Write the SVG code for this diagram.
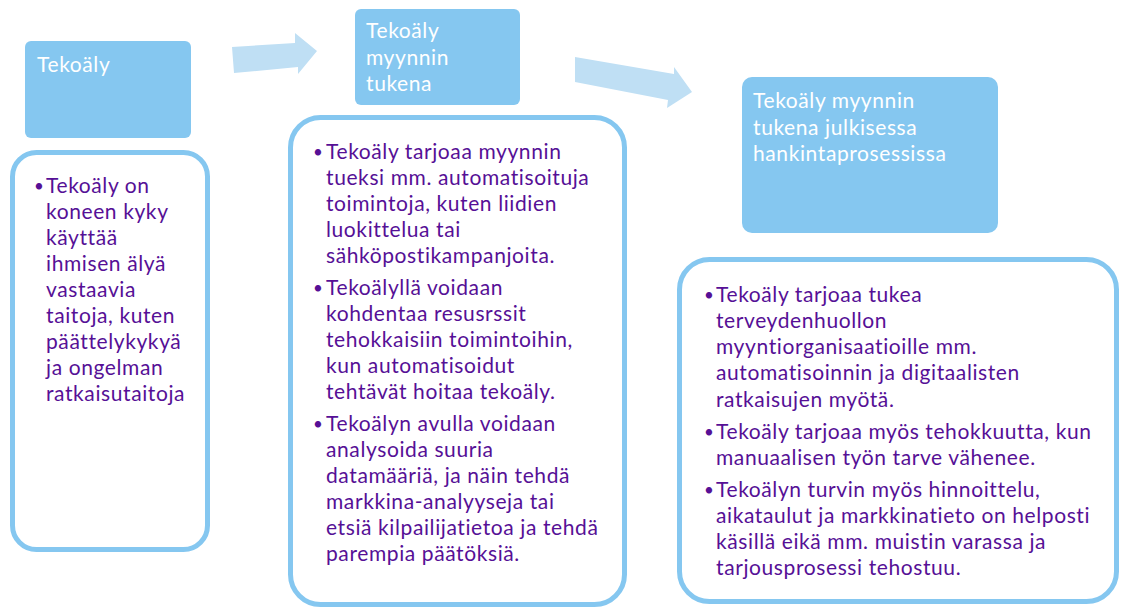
<svg xmlns="http://www.w3.org/2000/svg" width="1121" height="610" viewBox="0 0 1121 610">
<style>
.hdr{fill:#85C7F0;}
.body{fill:#ffffff;stroke:#85C7F0;stroke-width:5;}
.arrow{fill:#BFDFF4;}
.ht{font-family:Lato,"Liberation Sans",sans-serif;font-size:21px;letter-spacing:0.6px;fill:#ffffff;}
.bt{font-family:Lato,"Liberation Sans",sans-serif;font-size:21px;letter-spacing:0.6px;fill:#561096;}
.bl{font-size:17px;}
</style>
<rect width="1121" height="610" fill="#ffffff"/>
<g id="connectors">
<polygon class="arrow" points="232,47 295,43 295,33 317,51 298,74 298,67 234,73"/>
<polygon class="arrow" points="575,57 674,74 674,67 692,92 667,108 668,100 575,82"/>
</g>
<g id="node-tekoaly">
<rect class="hdr" x="25" y="41" width="166" height="97" rx="6"/>
<text class="ht" x="37" y="72">Tekoäly</text>
</g>
<g id="node-tekoaly-body">
<rect class="body" x="12.5" y="152.5" width="195" height="397" rx="24"/>
<text class="bt"><tspan class="bl" x="34" y="192">•</tspan><tspan x="46" y="193">Tekoäly on</tspan><tspan x="46" dy="26">koneen kyky</tspan><tspan x="46" dy="26">käyttää</tspan><tspan x="46" dy="26">ihmisen älyä</tspan><tspan x="46" dy="26">vastaavia</tspan><tspan x="46" dy="26">taitoja, kuten</tspan><tspan x="46" dy="26">päättelykykyä</tspan><tspan x="46" dy="26">ja ongelman</tspan><tspan x="46" dy="26">ratkaisutaitoja</tspan></text>
</g>
<g id="node-myynnin-tukena">
<rect class="hdr" x="355" y="9" width="165" height="96" rx="6"/>
<text class="ht"><tspan x="366" y="38">Tekoäly</tspan><tspan x="366" y="65">myynnin</tspan><tspan x="366" y="91">tukena</tspan></text>
</g>
<g id="node-myynnin-tukena-body">
<rect class="body" x="290.5" y="117.5" width="334" height="487" rx="30"/>
<text class="bt"><tspan class="bl" x="313" y="158">•</tspan><tspan x="326" y="159">Tekoäly tarjoaa myynnin</tspan><tspan x="326" y="185">tueksi mm. automatisoituja</tspan><tspan x="326" y="211">toimintoja, kuten liidien</tspan><tspan x="326" y="237">luokittelua tai</tspan><tspan x="326" y="263">sähköpostikampanjoita.</tspan><tspan class="bl" x="313" y="294">•</tspan><tspan x="326" y="295">Tekoälyllä voidaan</tspan><tspan x="326" y="321">kohdentaa resusrssit</tspan><tspan x="326" y="347">tehokkaisiin toimintoihin,</tspan><tspan x="326" y="373">kun automatisoidut</tspan><tspan x="326" y="399">tehtävät hoitaa tekoäly.</tspan><tspan class="bl" x="313" y="430">•</tspan><tspan x="326" y="431">Tekoälyn avulla voidaan</tspan><tspan x="326" y="457">analysoida suuria</tspan><tspan x="326" y="483">datamääriä, ja näin tehdä</tspan><tspan x="326" y="509">markkina-analyyseja tai</tspan><tspan x="326" y="535">etsiä kilpailijatietoa ja tehdä</tspan><tspan x="326" y="561">parempia päätöksiä.</tspan></text>
</g>
<g id="node-julkinen">
<rect class="hdr" x="742" y="77" width="256" height="156" rx="10"/>
<text class="ht"><tspan x="753" y="108">Tekoäly myynnin</tspan><tspan x="753" y="135">tukena julkisessa</tspan><tspan x="753" y="161">hankintaprosessissa</tspan></text>
</g>
<g id="node-julkinen-body">
<rect class="body" x="679.5" y="259.5" width="437" height="342" rx="30"/>
<text class="bt"><tspan class="bl" x="704" y="301">•</tspan><tspan x="716" y="302">Tekoäly tarjoaa tukea</tspan><tspan x="716" y="328">terveydenhuollon</tspan><tspan x="716" y="354">myyntiorganisaatioille mm.</tspan><tspan x="716" y="380">automatisoinnin ja digitaalisten</tspan><tspan x="716" y="407">ratkaisujen myötä.</tspan><tspan class="bl" x="704" y="438">•</tspan><tspan x="716" y="439">Tekoäly tarjoaa myös tehokkuutta, kun</tspan><tspan x="716" y="465">manuaalisen työn tarve vähenee.</tspan><tspan class="bl" x="704" y="496">•</tspan><tspan x="716" y="497">Tekoälyn turvin myös hinnoittelu,</tspan><tspan x="716" y="523">aikataulut ja markkinatieto on helposti</tspan><tspan x="716" y="549">käsillä eikä mm. muistin varassa ja</tspan><tspan x="716" y="575">tarjousprosessi tehostuu.</tspan></text>
</g>
</svg>
